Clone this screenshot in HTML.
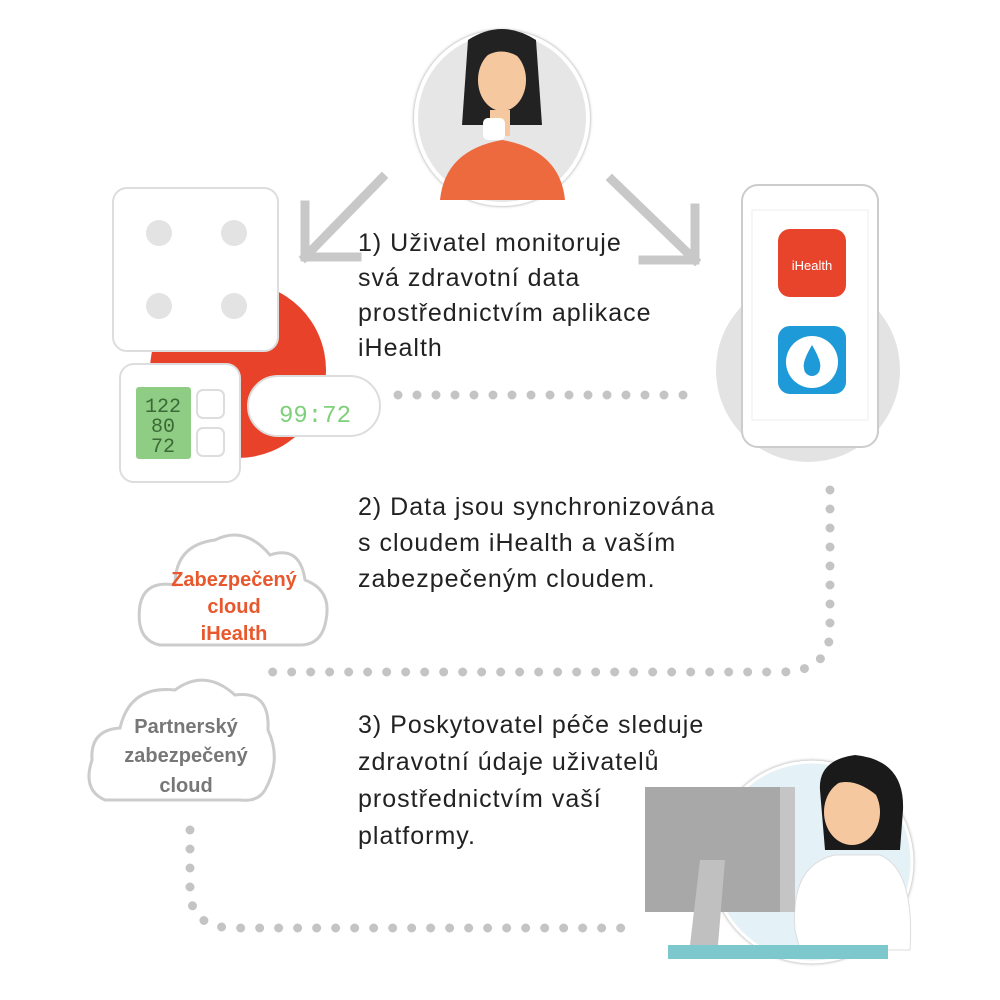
<!DOCTYPE html>
<html><head><meta charset="utf-8"><style>
body{margin:0;background:#fff;width:1000px;height:1000px;overflow:hidden}
svg{display:block}
.c{font-family:"Liberation Sans",sans-serif;font-size:20px;font-weight:bold;text-anchor:middle}
.tx{position:absolute;left:358px;font-family:'Liberation Sans',sans-serif;font-size:25px;letter-spacing:1px;color:#222}
</style></head><body>
<svg width="1000" height="1000" viewBox="0 0 1000 1000">
<defs><filter id="sh"><feDropShadow dx="0" dy="0" stdDeviation="1.5" flood-color="#999"/></filter></defs>
<circle cx="502" cy="118" r="86" fill="#e6e6e6" stroke="#fff" stroke-width="4" filter="url(#sh)"/>
<path d="M468 40 Q502 18 536 40 L542 125 L462 125 Z" fill="#222"/>
<path d="M440 200 Q445 150 502 140 Q560 150 565 200 Z" fill="#ec6a3e"/>
<ellipse cx="502" cy="80" rx="24" ry="31" fill="#f6c8a0"/>
<path d="M478 62 Q502 40 528 64 L528 48 Q502 30 476 50Z" fill="#222"/>
<rect x="490" y="110" width="20" height="26" fill="#f6c8a0"/>
<rect x="483" y="118" width="22" height="22" rx="5" fill="#fff"/>
<g stroke="#c8c8c8" stroke-width="9" fill="none" stroke-linecap="square">
<path d="M382 178 L305 257 M305 205 L305 257 L357 257"/>
<path d="M612 180 L695 260 M695 208 L695 260 L643 260"/>
</g>
<circle cx="238" cy="370" r="88" fill="#e8422a"/>
<rect x="113" y="188" width="165" height="163" rx="14" fill="#fff" stroke="#ddd" stroke-width="2"/>
<circle cx="159" cy="233" r="13" fill="#e3e3e3"/><circle cx="234" cy="233" r="13" fill="#e3e3e3"/>
<circle cx="159" cy="306" r="13" fill="#e3e3e3"/><circle cx="234" cy="306" r="13" fill="#e3e3e3"/>
<rect x="120" y="364" width="120" height="118" rx="14" fill="#fff" stroke="#ddd" stroke-width="2"/>
<rect x="136" y="387" width="55" height="72" rx="3" fill="#8fcc84"/>
<text x="163" y="412" font-family="Liberation Mono" font-size="20" text-anchor="middle" fill="#3a6a36">122</text>
<text x="163" y="432" font-family="Liberation Mono" font-size="20" text-anchor="middle" fill="#3a6a36">80</text>
<text x="163" y="452" font-family="Liberation Mono" font-size="20" text-anchor="middle" fill="#3a6a36">72</text>
<rect x="197" y="390" width="27" height="28" rx="6" fill="#fff" stroke="#ddd" stroke-width="2"/>
<rect x="197" y="428" width="27" height="28" rx="6" fill="#fff" stroke="#ddd" stroke-width="2"/>
<rect x="248" y="376" width="132" height="60" rx="30" fill="#fff" stroke="#ddd" stroke-width="2"/>
<text x="315" y="422" font-family="Liberation Mono" font-size="24" text-anchor="middle" fill="#7ed07a">99:72</text>
<circle cx="808" cy="370" r="92" fill="#e3e3e3"/>
<rect x="742" y="185" width="136" height="262" rx="16" fill="#fff" stroke="#ccc" stroke-width="2"/>
<rect x="752" y="210" width="116" height="210" fill="#fff" stroke="#eee"/>
<rect x="778" y="229" width="68" height="68" rx="12" fill="#e8442c"/>
<text x="812" y="270" font-family="Liberation Sans" font-size="13" fill="#fff" text-anchor="middle">iHealth</text>
<rect x="778" y="326" width="68" height="68" rx="12" fill="#1e9ad8"/>
<circle cx="812" cy="362" r="26" fill="#fff"/>
<path d="M812 345 Q822 362 820 368 A8 8 0 0 1 804 368 Q802 362 812 345Z" fill="#1e9ad8"/>
<g stroke="#c4c4c4" stroke-width="9" stroke-linecap="round" stroke-dasharray="0 19" fill="none">
<path d="M398 395 L692 395"/>
<path d="M830 490 L830 630 Q830 672 780 672 L255 672"/>
<path d="M190 830 L190 890 Q190 928 235 928 L630 928"/>
</g>
<g fill="#fff" stroke="#ccc" stroke-width="3">
<path d="M160 645 Q135 640 140 605 Q145 580 175 585 Q175 545 215 540 Q245 525 270 555 Q300 545 305 580 Q332 590 326 620 Q322 645 300 645 Z"/>
<path d="M105 800 Q82 790 92 760 Q90 730 120 728 Q130 685 175 690 Q205 668 235 695 Q270 690 268 730 Q282 760 265 790 Q258 802 240 800 Z"/>
</g>
<text class="c" x="234" y="586" fill="#e8582c">Zabezpečený</text>
<text class="c" x="234" y="613" fill="#e8582c">cloud</text>
<text class="c" x="234" y="640" fill="#e8582c">iHealth</text>
<text class="c" x="186" y="733" fill="#777">Partnerský</text>
<text class="c" x="186" y="762" fill="#777">zabezpečený</text>
<text class="c" x="186" y="792" fill="#777">cloud</text>
<circle cx="812" cy="862" r="100" fill="#e4f1f6" stroke="#fff" stroke-width="3" filter="url(#sh)"/>
<path d="M820 790 Q818 760 855 755 Q905 760 903 810 L900 850 L825 850Z" fill="#1a1a1a"/>
<path d="M795 930 Q790 865 835 855 L880 855 Q915 870 910 950 L800 950Z" fill="#fff" stroke="#ddd"/>
<ellipse cx="852" cy="812" rx="28" ry="33" fill="#f6c8a0"/>
<path d="M825 790 Q850 770 882 800 L882 780 Q855 762 825 782Z" fill="#1a1a1a"/>
<rect x="645" y="787" width="150" height="125" fill="#a8a8a8"/>
<rect x="780" y="787" width="15" height="125" fill="#c5c5c5"/>
<path d="M700 860 L725 860 L718 945 L690 945Z" fill="#c0c0c0"/>
<rect x="668" y="945" width="220" height="14" fill="#7dc8cc"/>
</svg>
<div class="tx" style="top:226px;line-height:35px">1) Uživatel monitoruje<br>svá zdravotní data<br>prostřednictvím aplikace<br>iHealth</div>
<div class="tx" style="top:489px;line-height:36px">2) Data jsou synchronizována<br>s cloudem iHealth a vaším<br>zabezpečeným cloudem.</div>
<div class="tx" style="top:707px;line-height:37px">3) Poskytovatel péče sleduje<br>zdravotní údaje uživatelů<br>prostřednictvím vaší<br>platformy.</div>
</body></html>
